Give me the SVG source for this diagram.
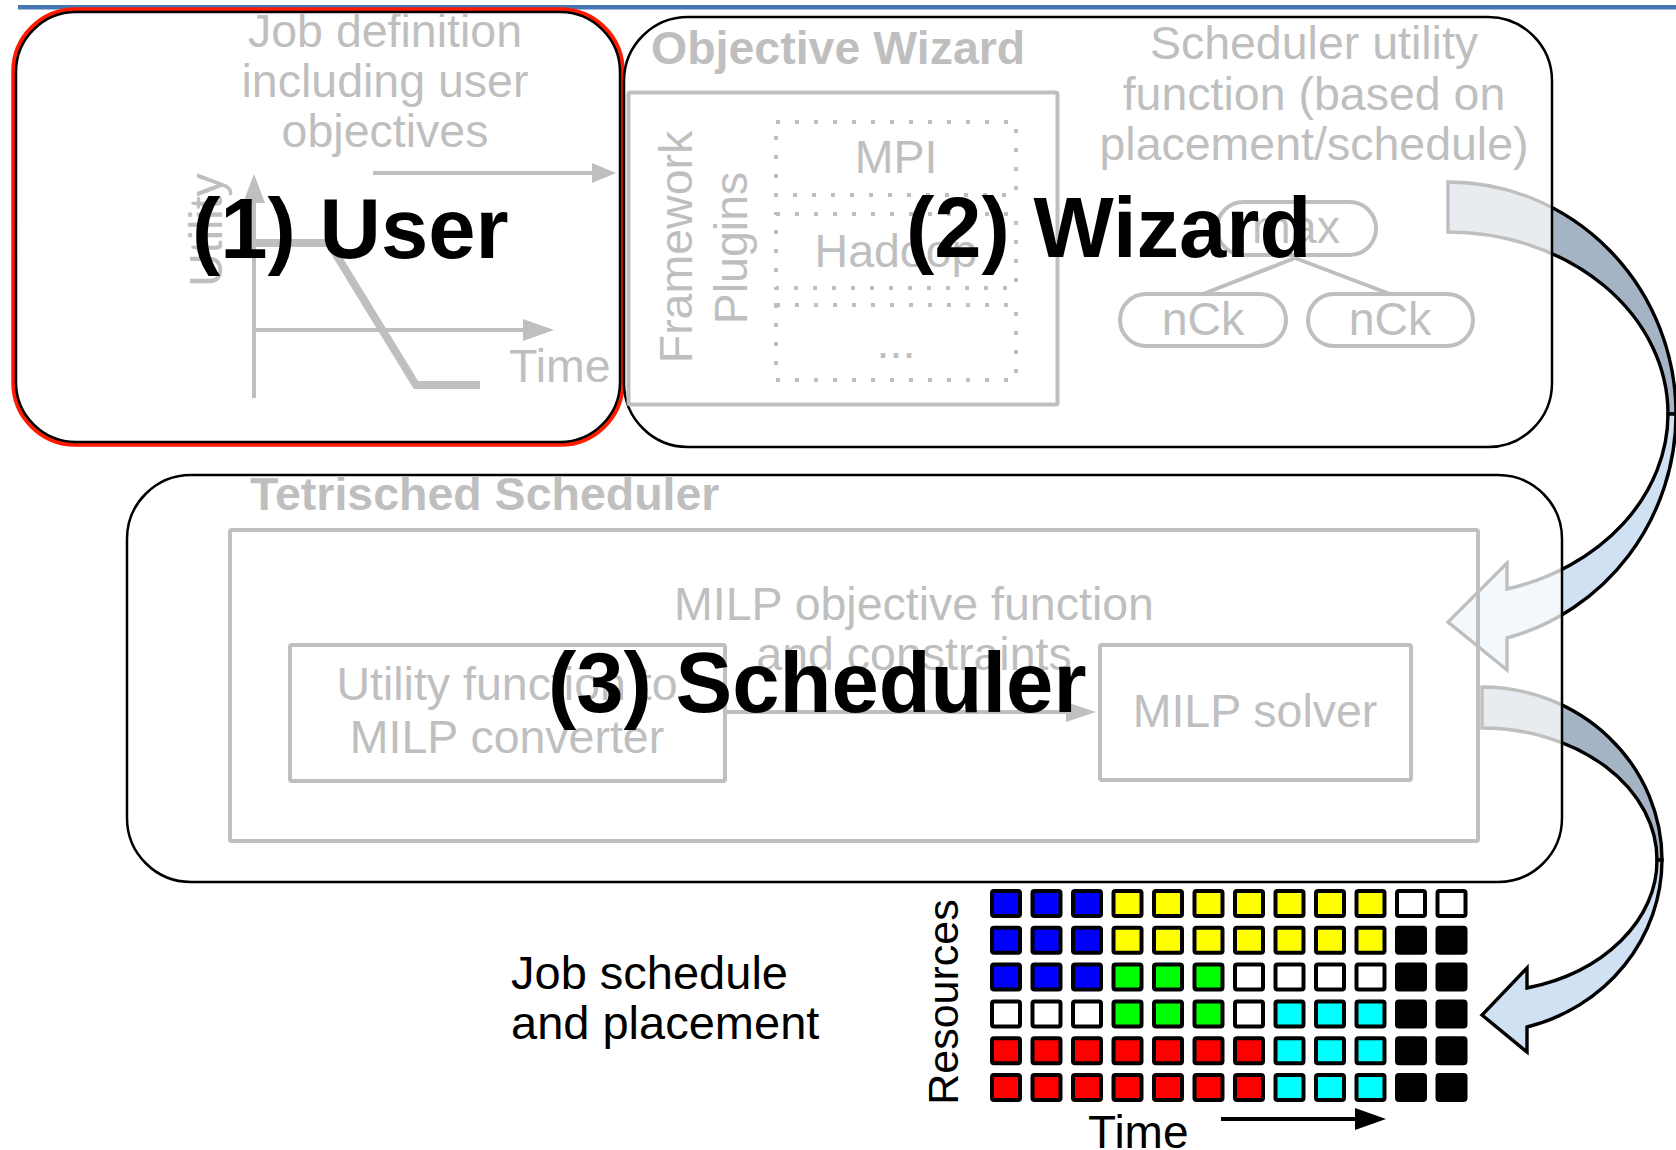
<svg xmlns="http://www.w3.org/2000/svg" xmlns:xlink="http://www.w3.org/1999/xlink" width="1676" height="1150" viewBox="0 0 1676 1150">
  <style>
    .t { font-family: "Liberation Sans", Arial, sans-serif; }
    .g { font-family: "Liberation Sans", Arial, sans-serif; fill: #bfbfbf; font-size: 46.5px; }
    .gb { font-family: "Liberation Sans", Arial, sans-serif; fill: #bfbfbf; font-size: 46.5px; font-weight: bold; }
    .big { font-family: "Liberation Sans", Arial, sans-serif; fill: #000; font-size: 85px; font-weight: bold; }
    .mid { text-anchor: middle; }
    .box { fill: #fff; fill-opacity: 0.75; stroke: #000; stroke-width: 2.5; }
    .gl { fill: none; stroke: #bfbfbf; stroke-width: 4; }
    .ga { fill: #bfbfbf; }
    .dot { fill: none; stroke: #bfbfbf; stroke-width: 4; stroke-dasharray: 4 15; }
    .conn { stroke: #000; stroke-width: 4; fill: none; }
    .head { fill: #000; }
    .back { fill: #a5b4c4; stroke: #000; stroke-width: 3.4; stroke-linejoin: miter; }
    .front { fill: #cfe1f3; stroke: #000; stroke-width: 3.4; stroke-linejoin: miter; }
    .cell { stroke: #000; stroke-width: 4; }
    .B { fill: #0000ff; } .Y { fill: #ffff00; } .G { fill: #00ff00; }
    .C { fill: #00ffff; } .R { fill: #ff0000; } .K { fill: #000; } .W { fill: #fff; }
  </style>
  <defs>
    <rect id="c" width="28" height="25" rx="2"/>
  </defs>

  <rect width="1676" height="1150" fill="#fff"/>
  <!-- header rule -->
  <line x1="18" y1="7.3" x2="1676" y2="7.3" stroke="#4677b0" stroke-width="4.5"/>

  <!-- connectors: drawn first so the translucent box fills soften them -->
  <g id="connectors">
    <!-- job definition into the wizard -->
    <line class="conn" x1="373" y1="173" x2="594" y2="173"/>
    <polygon class="head" points="592,163 616,173 592,183"/>
    <!-- converter to solver -->
    <line class="conn" x1="727" y1="712" x2="1070" y2="712"/>
    <polygon class="head" points="1066,702 1096,712 1066,722"/>
    <!-- wizard to scheduler curved arrow -->
    <path class="back" d="M1448,182 A228,232 0 0 1 1676,414 L1668,414 A220,182 0 0 0 1448,232 Z"/>
    <path class="front" d="M1676,414 A228,232 0 0 1 1507,638 L1507,670 L1448,622 L1507,563 L1507,589 A220,182 0 0 0 1668,414 Z"/>
    <!-- scheduler to schedule curved arrow -->
    <path class="back" d="M1482,687 A180,173 0 0 1 1662,860 L1657,860 A175,132 0 0 0 1482,728 Z"/>
    <path class="front" d="M1662,860 A180,173 0 0 1 1527,1027 L1527,1052 L1482,1015 L1527,968 L1527,988 A175,132 0 0 0 1657,860 Z"/>
  </g>

  <!-- (1) User -->
  <g id="user">
    <rect x="13.5" y="9.5" width="609" height="435" rx="62" fill="none" stroke="#ff1a00" stroke-width="4.5"/>
    <rect class="box" x="16" y="12" width="604" height="430" rx="60" stroke-width="2.2"/>
    <text class="g mid" x="385" y="47">Job definition</text>
    <text class="g mid" x="385" y="97">including user</text>
    <text class="g mid" x="385" y="147">objectives</text>
    <!-- utility-over-time sketch -->
    <line class="gl" x1="254" y1="398" x2="254" y2="200"/>
    <polygon class="ga" points="243,203 254,174 265,203"/>
    <line class="gl" x1="254" y1="330" x2="527" y2="330"/>
    <polygon class="ga" points="523,319 554,330 523,341"/>
    <polyline fill="none" stroke="#bfbfbf" stroke-width="8" points="254,243 329,243 416,385 480,385"/>
    <text class="g mid" font-size="44" transform="translate(222,230) rotate(-90)">Utility</text>
    <text class="g" x="509" y="382">Time</text>
    <text class="big" x="192" y="258">(1) User</text>
  </g>

  <!-- (2) Wizard -->
  <g id="wizard">
    <rect class="box" x="624" y="17" width="928" height="430" rx="64"/>
    <text class="gb" x="651" y="64">Objective Wizard</text>
    <rect class="gl" x="628.5" y="92.5" width="429" height="312" rx="2" stroke-width="5"/>
    <text class="g mid" font-size="45" transform="translate(692,247) rotate(-90)">Framework</text>
    <text class="g mid" font-size="45" transform="translate(747,248) rotate(-90)">Plugins</text>
    <rect class="dot" x="776" y="122" width="240" height="73"/>
    <rect class="dot" x="776" y="214" width="240" height="74"/>
    <rect class="dot" x="776" y="305" width="240" height="75"/>
    <text class="g mid" x="896" y="173">MPI</text>
    <text class="g mid" x="896" y="267">Hadoop</text>
    <text class="g mid" x="896" y="358">...</text>
    <text class="g mid" x="1314" y="59">Scheduler utility</text>
    <text class="g mid" x="1314" y="110">function (based on</text>
    <text class="g mid" x="1314" y="160">placement/schedule)</text>
    <!-- objective tree -->
    <line class="gl" x1="1295" y1="258" x2="1203" y2="294"/>
    <line class="gl" x1="1295" y1="258" x2="1390" y2="294"/>
    <rect class="gl" x="1217" y="202" width="159" height="53" rx="26.5"/>
    <rect class="gl" x="1120" y="294" width="166" height="52" rx="26"/>
    <rect class="gl" x="1308" y="294" width="165" height="52" rx="26"/>
    <text class="g mid" x="1296" y="243">max</text>
    <text class="g mid" x="1203" y="335">nCk</text>
    <text class="g mid" x="1390" y="335">nCk</text>
    <text class="big" x="906" y="257">(2) Wizard</text>
  </g>

  <!-- (3) Scheduler -->
  <g id="scheduler">
    <rect class="box" x="127" y="475" width="1435" height="407" rx="64"/>
    <text class="gb" x="250" y="510">Tetrisched Scheduler</text>
    <rect class="gl" x="230" y="530" width="1248" height="311" rx="2" stroke-width="5"/>
    <text class="g mid" x="914" y="620">MILP objective function</text>
    <text class="g mid" x="914" y="670">and constraints</text>
    <rect class="gl" x="290" y="645" width="435" height="136" rx="2"/>
    <text class="g mid" x="507" y="700">Utility function to</text>
    <text class="g mid" x="507" y="753">MILP converter</text>
    <rect class="gl" x="1100" y="645" width="311" height="135" rx="2"/>
    <text class="g mid" x="1255" y="727">MILP solver</text>
    <text class="big" x="548" y="712">(3) Scheduler</text>
  </g>

  <!-- resulting job schedule and placement -->
  <g id="schedule">
    <text class="t" font-size="47" x="511" y="989">Job schedule</text>
    <text class="t" font-size="47" x="511" y="1039">and placement</text>
    <text class="t mid" font-size="43" transform="translate(958,1002) rotate(-90)">Resources</text>
    <text class="t" font-size="46" x="1088" y="1148">Time</text>
    <line x1="1221" y1="1119" x2="1358" y2="1119" stroke="#000" stroke-width="4"/>
    <polygon points="1355,1108 1386,1119 1355,1130" fill="#000"/>
    <g class="cell">
      <use xlink:href="#c" class="B" x="992" y="891"/><use xlink:href="#c" class="B" x="1032.5" y="891"/><use xlink:href="#c" class="B" x="1073" y="891"/>
      <use xlink:href="#c" class="Y" x="1113.5" y="891"/><use xlink:href="#c" class="Y" x="1154" y="891"/><use xlink:href="#c" class="Y" x="1194.5" y="891"/>
      <use xlink:href="#c" class="Y" x="1235" y="891"/><use xlink:href="#c" class="Y" x="1275.5" y="891"/><use xlink:href="#c" class="Y" x="1316" y="891"/>
      <use xlink:href="#c" class="Y" x="1356.5" y="891"/><use xlink:href="#c" class="W" x="1397" y="891"/><use xlink:href="#c" class="W" x="1437.5" y="891"/>

      <use xlink:href="#c" class="B" x="992" y="927.8"/><use xlink:href="#c" class="B" x="1032.5" y="927.8"/><use xlink:href="#c" class="B" x="1073" y="927.8"/>
      <use xlink:href="#c" class="Y" x="1113.5" y="927.8"/><use xlink:href="#c" class="Y" x="1154" y="927.8"/><use xlink:href="#c" class="Y" x="1194.5" y="927.8"/>
      <use xlink:href="#c" class="Y" x="1235" y="927.8"/><use xlink:href="#c" class="Y" x="1275.5" y="927.8"/><use xlink:href="#c" class="Y" x="1316" y="927.8"/>
      <use xlink:href="#c" class="Y" x="1356.5" y="927.8"/><use xlink:href="#c" class="K" x="1397" y="927.8"/><use xlink:href="#c" class="K" x="1437.5" y="927.8"/>

      <use xlink:href="#c" class="B" x="992" y="964.6"/><use xlink:href="#c" class="B" x="1032.5" y="964.6"/><use xlink:href="#c" class="B" x="1073" y="964.6"/>
      <use xlink:href="#c" class="G" x="1113.5" y="964.6"/><use xlink:href="#c" class="G" x="1154" y="964.6"/><use xlink:href="#c" class="G" x="1194.5" y="964.6"/>
      <use xlink:href="#c" class="W" x="1235" y="964.6"/><use xlink:href="#c" class="W" x="1275.5" y="964.6"/><use xlink:href="#c" class="W" x="1316" y="964.6"/>
      <use xlink:href="#c" class="W" x="1356.5" y="964.6"/><use xlink:href="#c" class="K" x="1397" y="964.6"/><use xlink:href="#c" class="K" x="1437.5" y="964.6"/>

      <use xlink:href="#c" class="W" x="992" y="1001.4"/><use xlink:href="#c" class="W" x="1032.5" y="1001.4"/><use xlink:href="#c" class="W" x="1073" y="1001.4"/>
      <use xlink:href="#c" class="G" x="1113.5" y="1001.4"/><use xlink:href="#c" class="G" x="1154" y="1001.4"/><use xlink:href="#c" class="G" x="1194.5" y="1001.4"/>
      <use xlink:href="#c" class="W" x="1235" y="1001.4"/><use xlink:href="#c" class="C" x="1275.5" y="1001.4"/><use xlink:href="#c" class="C" x="1316" y="1001.4"/>
      <use xlink:href="#c" class="C" x="1356.5" y="1001.4"/><use xlink:href="#c" class="K" x="1397" y="1001.4"/><use xlink:href="#c" class="K" x="1437.5" y="1001.4"/>

      <use xlink:href="#c" class="R" x="992" y="1038.2"/><use xlink:href="#c" class="R" x="1032.5" y="1038.2"/><use xlink:href="#c" class="R" x="1073" y="1038.2"/>
      <use xlink:href="#c" class="R" x="1113.5" y="1038.2"/><use xlink:href="#c" class="R" x="1154" y="1038.2"/><use xlink:href="#c" class="R" x="1194.5" y="1038.2"/>
      <use xlink:href="#c" class="R" x="1235" y="1038.2"/><use xlink:href="#c" class="C" x="1275.5" y="1038.2"/><use xlink:href="#c" class="C" x="1316" y="1038.2"/>
      <use xlink:href="#c" class="C" x="1356.5" y="1038.2"/><use xlink:href="#c" class="K" x="1397" y="1038.2"/><use xlink:href="#c" class="K" x="1437.5" y="1038.2"/>

      <use xlink:href="#c" class="R" x="992" y="1075"/><use xlink:href="#c" class="R" x="1032.5" y="1075"/><use xlink:href="#c" class="R" x="1073" y="1075"/>
      <use xlink:href="#c" class="R" x="1113.5" y="1075"/><use xlink:href="#c" class="R" x="1154" y="1075"/><use xlink:href="#c" class="R" x="1194.5" y="1075"/>
      <use xlink:href="#c" class="R" x="1235" y="1075"/><use xlink:href="#c" class="C" x="1275.5" y="1075"/><use xlink:href="#c" class="C" x="1316" y="1075"/>
      <use xlink:href="#c" class="C" x="1356.5" y="1075"/><use xlink:href="#c" class="K" x="1397" y="1075"/><use xlink:href="#c" class="K" x="1437.5" y="1075"/>
    </g>
  </g>
</svg>
